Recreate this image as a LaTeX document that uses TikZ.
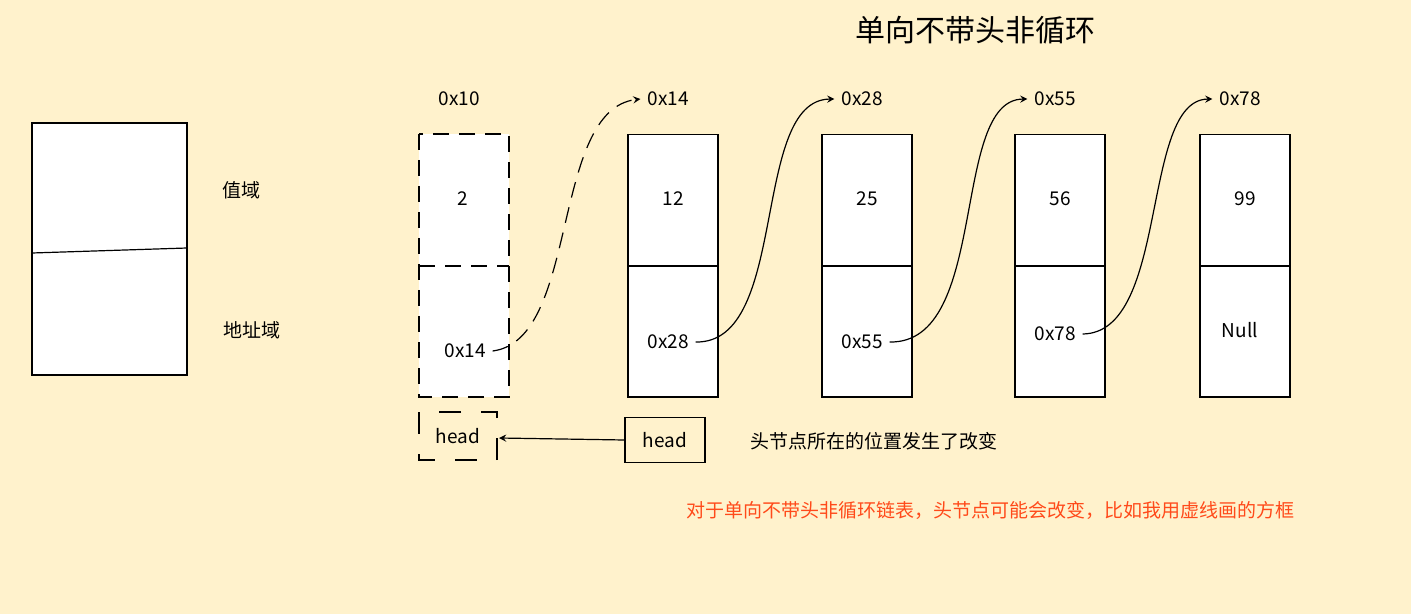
\documentclass[tikz,border=0pt]{standalone}
\usepackage{fontspec}
\setmainfont{Noto Sans CJK SC}
\usepackage{tikz}
\usetikzlibrary{calc}
\definecolor{bg_yellow}{HTML}{FFF2CC}
\definecolor{note_red}{HTML}{FF4A1A}
\tikzset{
	cell/.style={draw, fill=white, minimum width=45pt, minimum height=65.5pt, inner sep=0pt, line width=0.6pt},
	lbl/.style={font=\fontsize{9.5}{11}\selectfont},
	link/.style={-stealth, line width=0.6pt},
}
\begin{document}
\begin{tikzpicture}[x=0.5pt, y=-0.5pt]
	\fill[bg_yellow] (0, 0) rectangle (1411, 614);
	\useasboundingbox (0, 0) rectangle (1411, 614);
	% legend box
	\draw[fill=white, line width=0.6pt] (32, 123) rectangle (187, 375);
	\draw[line width=0.6pt] (32, 253) -- (187, 248);
	\node[lbl] (val) at (241, 190) {值域};
	\node[lbl] (addr) at (252, 330) {地址域};
	% first node, dashed
	\fill[white] (419, 134) rectangle (509, 397);
	\draw[dashed, dash pattern=on 8pt off 5pt, line width=0.6pt] (419, 134) rectangle (509, 397);
	\draw[dashed, dash pattern=on 8pt off 5pt, line width=0.6pt] (419, 266) -- (509, 266);
	\node[lbl] (v1) at (463, 199) {2};
	\node[lbl] (p1) at (465, 351) {0x14};
	\node[lbl] (t1) at (459, 99) {0x10};
	\foreach \name/\x/\val/\adr/\ay/\tp in {2/673/12/0x28/342/0x14, 3/867/25/0x55/342/0x28, 4/1060/56/0x78/334/0x55, 5/1245/99/Null/330/0x78} {
		\node[cell] (v\name) at (\x, 200) {};
		\node[cell] (a\name) at (\x, 331.5) {};
		\node[lbl] at (\x, 199) {\val};
		\node[lbl] (p\name) at ($(\x, \ay) + (-5, 0)$) {\adr};
		\node[lbl] (t\name) at ($(\x, 99) + (-5, 0)$) {\tp};
	}
	% links
	\draw[link, dashed, dash pattern=on 8pt off 5pt] (p1.east) .. controls (580, 340) and (550, 110) .. (t2.west);
	\draw[link] (p2.east) .. controls (790, 344) and (750, 100) .. (t3.west);
	\draw[link] (p3.east) .. controls (990, 344) and (950, 100) .. (t4.west);
	\draw[link] (p4.east) .. controls (1170, 333) and (1140, 100) .. (t5.west);
	% head
	\draw[dashed, dash pattern=on 11pt off 10pt, line width=0.6pt] (419, 412) rectangle (497, 460);
	\node[lbl] (oldhead) at (458, 436) {head};
	\node[lbl, draw, minimum width=40pt, minimum height=22.5pt, line width=0.6pt] (newhead) at (665, 440) {head};
	\coordinate (h) at (499, 438);
	\draw[link] (newhead.west) -- (h);
	\node[lbl, anchor=west] (note1) at (743, 441) {头节点所在的位置发生了改变};
	\node[font=\fontsize{15}{18}\selectfont] (title) at (975, 30) {单向不带头非循环};
	\node[lbl, text=note_red] (note2) at (990, 510) {对于单向不带头非循环链表，头节点可能会改变，比如我用虚线画的方框};
\end{tikzpicture}
\end{document}
